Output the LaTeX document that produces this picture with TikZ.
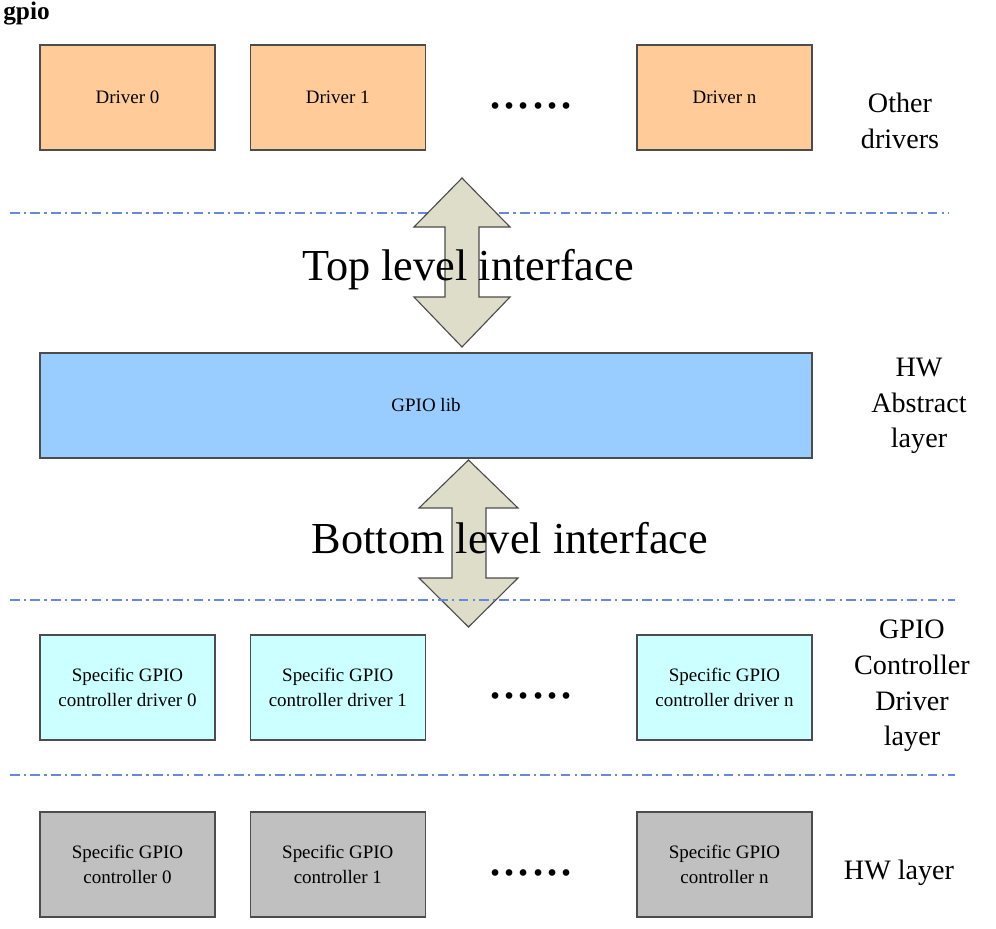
\documentclass[tikz,border=0pt]{standalone}
\usepackage{fontspec}
\setmainfont{Liberation Serif}
\usetikzlibrary{positioning}

\definecolor{drvorange}{HTML}{FFCC99}
\definecolor{libblue}{HTML}{99CCFF}
\definecolor{ctrlcyan}{HTML}{CCFFFF}
\definecolor{hwgray}{HTML}{C0C0C0}
\definecolor{arrowfill}{HTML}{DDDDCA}
\definecolor{sepblue}{HTML}{6688DD}

\begin{document}
\begin{tikzpicture}[
  x = 0.025cm, y = -0.025cm,
  box/.style = {draw = black!70, line width = 0.9pt, minimum width = 4.375cm,
                minimum height = 2.625cm, align = center, inner sep = 0pt,
                font = \fontsize{13.5}{17.8}\selectfont},
  drvbox/.style = {box, fill = drvorange},
  ctrlbox/.style = {box, fill = ctrlcyan},
  hwbox/.style = {box, fill = hwgray},
  libbox/.style = {box, fill = libblue, minimum width = 19.3cm},
  layer/.style = {align = center, font = \fontsize{20}{25.3}\selectfont},
  iface/.style = {anchor = base, font = \fontsize{31.5}{36}\selectfont},
  dots/.style = {anchor = base, font = \fontsize{40}{40}\selectfont},
  sepline/.style = {draw = sepblue, line width = 0.8pt,
                    dash pattern = on 7pt off 3pt on 1.5pt off 3pt},
  bigarrow/.style = {draw = black!70, line width = 0.8pt, fill = arrowfill},
  ]
  \useasboundingbox (0,0) rectangle (996,929);
  \node[anchor = base west, inner sep = 0pt, font = \fontsize{18}{20}\selectfont\bfseries] (title) at (3,19) {gpio};

  % other drivers
  \node[drvbox] (drv0) at (127.5,97.5) {Driver 0};
  \node[drvbox, right = 0.85cm of drv0] (drv1) {Driver 1};
  \node[drvbox] (drvn) at (724.5,97.5) {Driver n};
  \node[dots] (drvdots) at (531,108) {......};
  \node[layer] (otherlbl) at (900,121) {Other\\drivers};

  \draw[sepline] (10,213) -- (948,213);

  % top level interface
  \draw[bigarrow] (462,178) -- (510,227) -- (479,227) -- (479,297) -- (510,297)
    -- (462,347) -- (414,297) -- (445,297) -- (445,227) -- (414,227) -- cycle;
  \node[iface] (topif) at (468,280) {Top level interface};

  % HW abstract layer
  \node[libbox] (gpiolib) at (426,405.5) {GPIO lib};
  \node[layer] (abslbl) at (919,406) {HW\\Abstract\\layer};

  % bottom level interface
  \draw[bigarrow] (468.5,460) -- (518,508) -- (486,508) -- (486,578) -- (518,578)
    -- (468.5,627) -- (419,578) -- (452,578) -- (452,508) -- (419,508) -- cycle;
  \node[iface] (botif) at (510,553) {Bottom level interface};

  \draw[sepline] (10,600) -- (955,600);

  % controller drivers
  \node[ctrlbox] (cdrv0) at (127.5,687.5) {Specific GPIO\\controller driver 0};
  \node[ctrlbox, right = 0.85cm of cdrv0] (cdrv1) {Specific GPIO\\controller driver 1};
  \node[ctrlbox] (cdrvn) at (724.5,687.5) {Specific GPIO\\controller driver n};
  \node[dots] (cdrvdots) at (531,698) {......};
  \node[layer] (ctrllbl) at (912,686) {GPIO\\Controller\\Driver\\layer};

  \draw[sepline] (10,775) -- (955,775);

  % hardware
  \node[hwbox] (hw0) at (127.5,864.5) {Specific GPIO\\controller 0};
  \node[hwbox, right = 0.85cm of hw0] (hw1) {Specific GPIO\\controller 1};
  \node[hwbox] (hwn) at (724.5,864.5) {Specific GPIO\\controller n};
  \node[dots] (hwdots) at (531,875) {......};
  \node[layer] (hwlbl) at (899,873) {HW layer};
\end{tikzpicture}
\end{document}
